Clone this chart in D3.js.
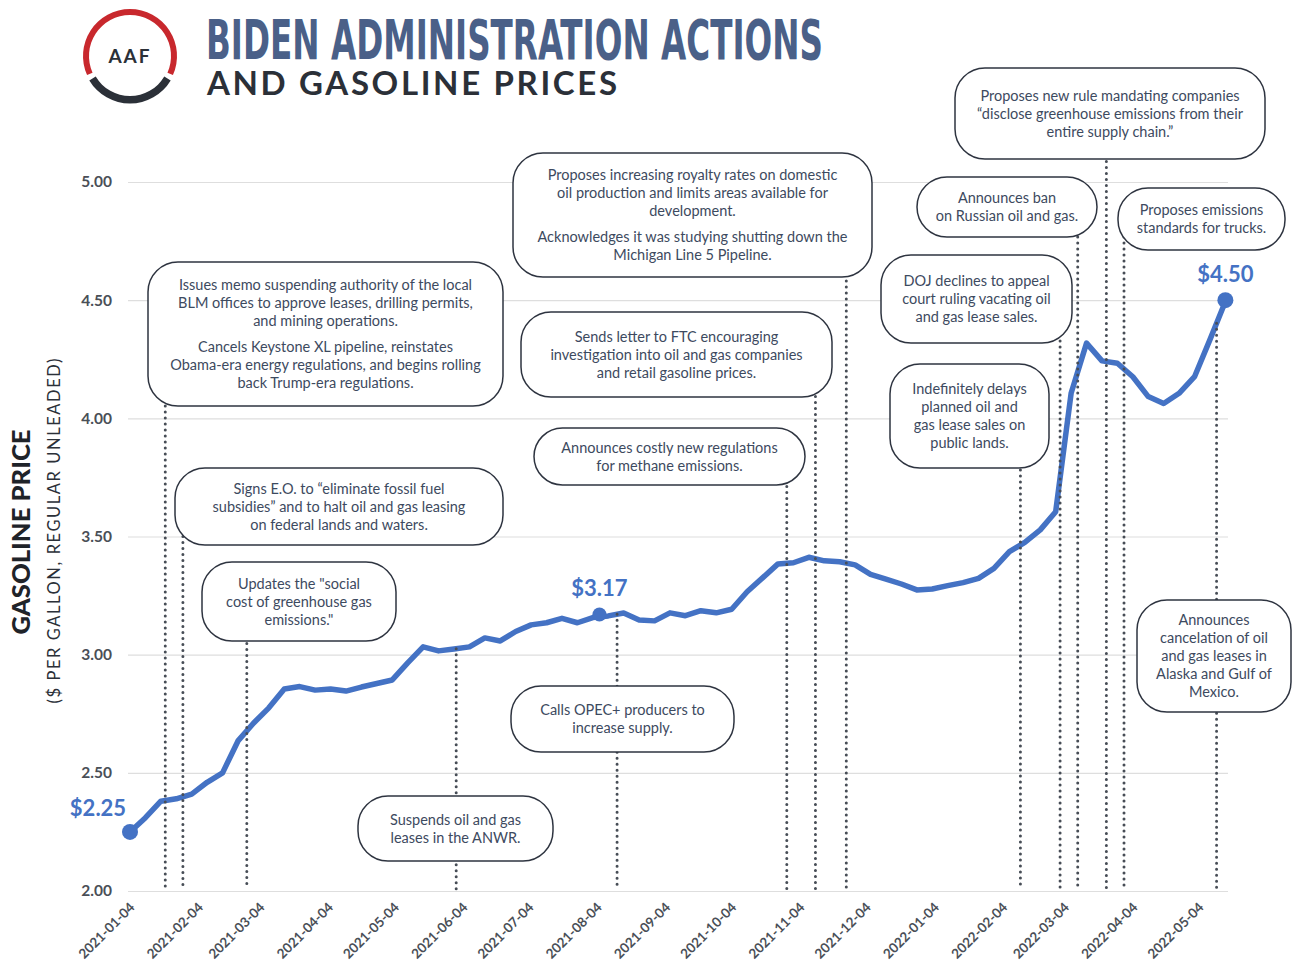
<!DOCTYPE html>
<html>
<head>
<meta charset="utf-8">
<script src="https://cdn.jsdelivr.net/npm/d3@7"></script>
<style>
  body { margin: 0; background: #fff; }
  svg { display: block; font-family: Lato, 'Open Sans', sans-serif; }
</style>
</head>
<body>
<svg id="chart"></svg>
<script>
// weekly regular gasoline price
const startWeek = '2021-01-04';
const prices = [
  2.25, 2.31, 2.38, 2.39, 2.41, 2.46, 2.50, 2.635, 2.71, 2.775,
  2.855, 2.865, 2.85, 2.855, 2.846, 2.863, 2.878, 2.893, 2.965, 3.033,
  3.016, 3.024, 3.033, 3.071, 3.058, 3.098, 3.126, 3.135, 3.154, 3.135,
  3.157, 3.164, 3.176, 3.147, 3.143, 3.177, 3.165, 3.186, 3.177, 3.192,
  3.266, 3.325, 3.384, 3.389, 3.412, 3.397, 3.393, 3.380, 3.340, 3.320,
  3.299, 3.274, 3.278, 3.292, 3.305, 3.323, 3.365, 3.436, 3.475, 3.528,
  3.605, 4.106, 4.318, 4.243, 4.233, 4.176, 4.092, 4.063, 4.106, 4.176,
  4.333, 4.494
];
const highlightDates = ['2021-01-04', '2021-08-05', '2022-05-16'];
const highlightValues = [2.25, 3.17, 4.50];
const yTicks = [2.0, 2.5, 3.0, 3.5, 4.0, 4.5, 5.0];
const xTickDates = ['2021-01-04','2021-02-04','2021-03-04','2021-04-04','2021-05-04','2021-06-04',
  '2021-07-04','2021-08-04','2021-09-04','2021-10-04','2021-11-04','2021-12-04',
  '2022-01-04','2022-02-04','2022-03-04','2022-04-04','2022-05-04'];

const eventDates = ['2021-01-20','2021-01-28','2021-02-26','2021-06-01','2021-08-13','2021-10-29',
  '2021-11-11','2021-11-25','2022-02-12','2022-03-02','2022-03-10','2022-03-23','2022-03-31','2022-05-12'];
const eventTexts = [
  ['Issues memo suspending authority of the local','BLM offices to approve leases, drilling permits,','and mining operations.','',
   'Cancels Keystone XL pipeline, reinstates','Obama-era energy regulations, and begins rolling','back Trump-era regulations.'],
  ['Signs E.O. to \u201celiminate fossil fuel','subsidies\u201d and to halt oil and gas leasing','on federal lands and waters.'],
  ['Updates the "social','cost of greenhouse gas','emissions."'],
  ['Suspends oil and gas','leases in the ANWR.'],
  ['Calls OPEC+ producers to','increase supply.'],
  ['Announces costly new regulations','for methane emissions.'],
  ['Sends letter to FTC encouraging','investigation into oil and gas companies','and retail gasoline prices.'],
  ['Proposes increasing royalty rates on domestic','oil production and limits areas available for','development.','',
   'Acknowledges it was studying shutting down the','Michigan Line 5 Pipeline.'],
  ['Indefinitely delays','planned oil and','gas lease sales on','public lands.'],
  ['DOJ declines to appeal','court ruling vacating oil','and gas lease sales.'],
  ['Announces ban','on Russian oil and gas.'],
  ['Proposes new rule mandating companies','\u201cdisclose greenhouse emissions from their','entire supply chain.\u201d'],
  ['Proposes emissions','standards for trucks.'],
  ['Announces','cancelation of oil','and gas leases in','Alaska and Gulf of','Mexico.']
];
// which callouts sit under the price line
const eventBelow = [false,false,false,true,true,false,false,false,false,false,false,false,false,true];

// callout box layout [x0, y0, x1, y1]
const boxLayout = [
  [148,262,503,406],[175,468,503,545],[202,562,396,641],[358,796,553,861],
  [511,686,734,752],[534,428,805,485],[521,312,832,397],[513,153,872,277],
  [890,364,1049,468],[881,255,1072,343],[917,177,1097,237],[955,68,1265,159],
  [1118,188,1285,250],[1137,600,1291,712]
];

const W = 1295, H = 966;
const blue = '#4472c4';
const parse = d3.timeParse('%Y-%m-%d');
const start = parse(startWeek);
const data = prices.map((p, i) => ({date: d3.timeDay.offset(start, i * 7), value: p}));

const svg = d3.select('#chart').attr('width', W).attr('height', H);

const x = d3.scaleTime()
  .domain([start, data[data.length - 1].date])
  .range([130, 130 + 497 * 2.204]);
const y = d3.scaleLinear().domain([2, 5]).range([891, 182]);

// gridlines + y labels
const yAxisG = svg.append('g')
  .attr('transform', 'translate(128,0)')
  .call(d3.axisLeft(y).tickValues(yTicks).tickFormat(d3.format('.2f')).tickSize(-1100).tickPadding(16));
yAxisG.select('.domain').remove();
yAxisG.selectAll('.tick line').attr('stroke', '#dedede').attr('stroke-width', 1.2);
yAxisG.selectAll('.tick text')
  .attr('font-family', 'Lato').attr('font-weight', 700).attr('font-size', 15.5).attr('fill', '#4a4f57');

// x labels
const xAxisG = svg.append('g')
  .attr('transform', 'translate(0,891)')
  .call(d3.axisBottom(x).tickValues(xTickDates.map(parse)).tickFormat(d3.timeFormat('%Y-%m-%d')).tickSize(0));
xAxisG.select('.domain').remove();
xAxisG.selectAll('.tick text')
  .attr('font-family', 'Lato').attr('font-weight', 700).attr('font-size', 13.5).attr('fill', '#4a4f57')
  .attr('text-anchor', 'end')
  .attr('dy', 0)
  .attr('transform', 'translate(3,15) rotate(-45)');

// price line
const line = d3.line().x(d => x(d.date)).y(d => y(d.value));
svg.append('path').datum(data)
  .attr('d', line)
  .attr('fill', 'none').attr('stroke', blue).attr('stroke-width', 5.5)
  .attr('stroke-linejoin', 'round').attr('stroke-linecap', 'round');

function valueAt(dt) {
  const i = d3.bisector(d => d.date).left(data, dt);
  if (i <= 0) return data[0].value;
  const a = data[i - 1], b = data[i];
  const t = (dt - a.date) / (b.date - a.date);
  return a.value + t * (b.value - a.value);
}

// dotted event lines
eventDates.forEach((ds, i) => {
  const dt = parse(ds);
  const box = boxLayout[i];
  const top = eventBelow[i] ? y(valueAt(dt)) : (box[1] + box[3]) / 2;
  svg.append('line')
    .attr('x1', x(dt)).attr('x2', x(dt))
    .attr('y1', top).attr('y2', 889)
    .attr('stroke', '#474d56').attr('stroke-width', 3)
    .attr('stroke-linecap', 'round').attr('stroke-dasharray', '0 6');
});

// callout boxes
eventTexts.forEach((lines, i) => {
  const [x0, y0, x1, y1] = boxLayout[i];
  const g = svg.append('g');
  const h = y1 - y0;
  g.append('rect')
    .attr('x', x0).attr('y', y0).attr('width', x1 - x0).attr('height', h)
    .attr('rx', Math.min(30, h / 2)).attr('ry', Math.min(30, h / 2))
    .attr('fill', '#fff').attr('stroke', '#2e3440').attr('stroke-width', 1.5);
  const gaps = lines.filter(l => l === '').length;
  const total = (lines.length - gaps - 1) * 18 + gaps * 8;
  let cy = (y0 + y1) / 2 - total / 2;
  const t = g.append('text')
    .attr('text-anchor', 'middle')
    .attr('font-family', 'Lato').attr('font-size', 14.5).attr('fill', '#3d4a60');
  lines.forEach(l => {
    if (l === '') { cy += 8; return; }
    t.append('tspan').attr('x', (x0 + x1) / 2).attr('y', cy).attr('dy', '0.35em').text(l);
    cy += 18;
  });
});

// highlight dots & labels
const hl = highlightDates.map((d, i) => ({date: parse(d), value: highlightValues[i]}));
svg.selectAll('circle.hl').data(hl).enter().append('circle')
  .attr('class', 'hl')
  .attr('cx', d => x(d.date)).attr('cy', d => y(d.value))
  .attr('r', (d, i) => i === 1 ? 7 : 8)
  .attr('fill', blue);
const labelOffsets = [[-32, -24], [0, -26], [0, -26]];
svg.selectAll('text.hl').data(hl).enter().append('text')
  .attr('class', 'hl')
  .attr('x', (d, i) => x(d.date) + labelOffsets[i][0])
  .attr('y', (d, i) => y(d.value) + labelOffsets[i][1])
  .attr('dy', '0.35em')
  .attr('text-anchor', 'middle')
  .attr('font-family', 'Lato').attr('font-weight', 700).attr('font-size', 22)
  .attr('fill', blue)
  .text(d => '$' + d3.format('.2f')(d.value));

// y axis titles
svg.append('text')
  .attr('transform', 'translate(30,532) rotate(-90)')
  .attr('text-anchor', 'middle')
  .attr('font-family', 'Lato').attr('font-weight', 900).attr('font-size', 24)
  .attr('fill', '#1f2329')
  .attr('textLength', 205).attr('lengthAdjust', 'spacingAndGlyphs')
  .text('GASOLINE PRICE');
svg.append('text')
  .attr('transform', 'translate(60,531) rotate(-90)')
  .attr('text-anchor', 'middle')
  .attr('font-family', 'Lato').attr('font-size', 16.5)
  .attr('fill', '#2b3038')
  .attr('textLength', 345).attr('lengthAdjust', 'spacing')
  .text('($ PER GALLON, REGULAR UNLEADED)');

// title
svg.append('text')
  .attr('x', 206).attr('y', 59)
  .attr('font-family', "'Liberation Sans Narrow', 'DejaVu Sans Condensed', sans-serif")
  .attr('font-weight', 700).attr('font-size', 56)
  .attr('fill', '#4a6088')
  .attr('textLength', 617).attr('lengthAdjust', 'spacingAndGlyphs')
  .text('BIDEN ADMINISTRATION ACTIONS');
svg.append('text')
  .attr('x', 207).attr('y', 95)
  .attr('font-family', 'Lato').attr('font-weight', 700).attr('font-size', 33)
  .attr('fill', '#2b3038')
  .attr('textLength', 410).attr('lengthAdjust', 'spacing')
  .text('AND GASOLINE PRICES');

// logo
const logo = svg.append('g').attr('transform', 'translate(130,56)');
const deg = Math.PI / 180;
logo.append('path')
  .attr('d', d3.arc()({innerRadius: 41, outerRadius: 47, startAngle: -114 * deg, endAngle: 114 * deg}))
  .attr('fill', '#c8282d');
logo.append('path')
  .attr('d', d3.arc()({innerRadius: 40, outerRadius: 47.5, startAngle: 121 * deg, endAngle: 239 * deg}))
  .attr('fill', '#2b3038');
logo.append('text')
  .attr('text-anchor', 'middle').attr('dy', '0.35em')
  .attr('font-family', 'Lato').attr('font-weight', 700).attr('font-size', 19)
  .attr('letter-spacing', 2).attr('fill', '#2b3038')
  .text('AAF');
</script>
</body>
</html>
